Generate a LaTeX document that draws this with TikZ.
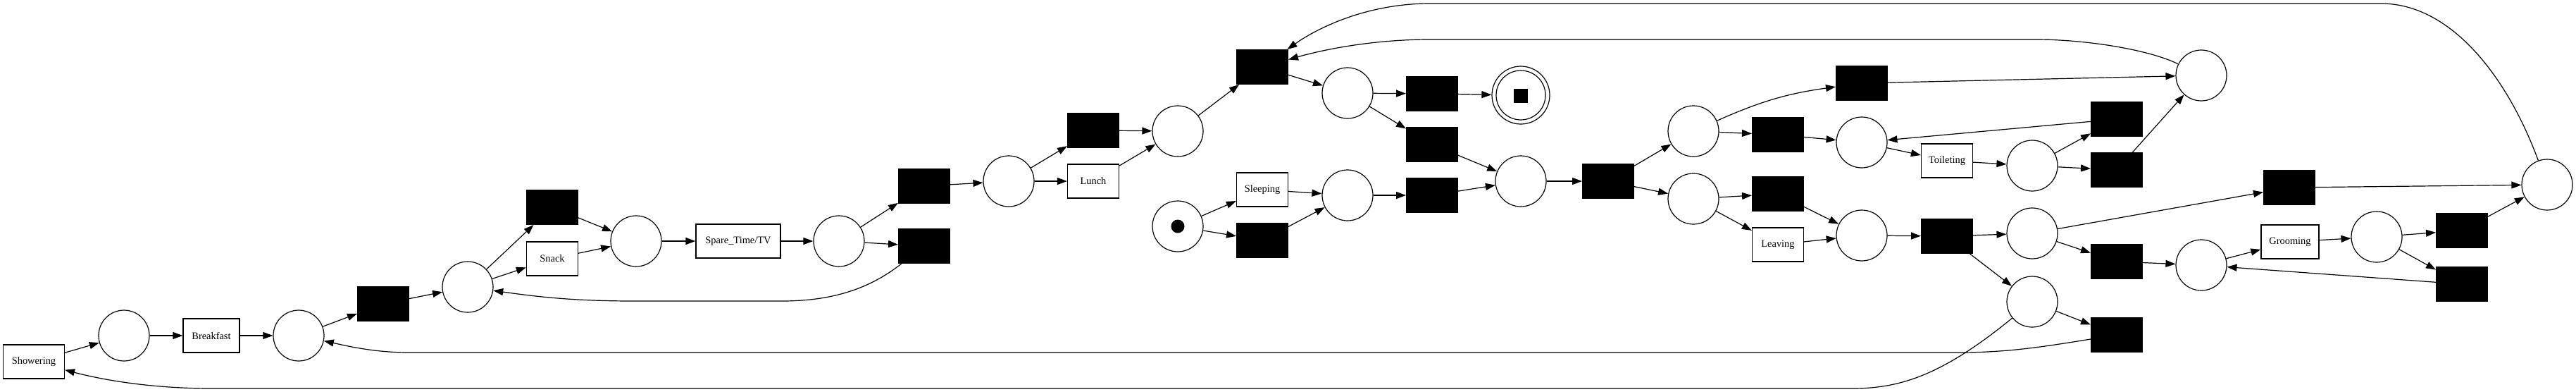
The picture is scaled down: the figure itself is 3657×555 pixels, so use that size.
\documentclass[tikz,border=0pt]{standalone}
\usepackage{fontspec}
\setmainfont{Liberation Serif}
\usetikzlibrary{arrows.meta}
\begin{document}
\begin{tikzpicture}[x=1pt,y=-1pt,
  place/.style={circle,draw,line width=1.2pt,minimum size=72pt,inner sep=0pt},
  blk/.style={rectangle,draw,fill=black,line width=1pt,minimum width=73pt,minimum height=49pt,inner sep=0pt},
  lbl/.style={rectangle,draw,fill=white,line width=1.2pt,minimum width=73pt,minimum height=48pt,inner sep=0pt,font=\fontsize{14.4}{17}\selectfont},
  arr/.style={-{Triangle[length=14pt,width=10pt]},line width=1.2pt},
  tokdot/.style={circle,fill=black,minimum size=19pt,inner sep=0pt},
  toksq/.style={rectangle,fill=black,minimum size=20pt,inner sep=0pt}
]
\useasboundingbox (0,0) rectangle (3657,555);
% nodes
\node[lbl,minimum width=87pt] (show) at (48,513) {Showering};
\node[place] (p1) at (176,476) {};
\node[lbl,minimum width=80pt] (bf) at (300,476) {Breakfast};
\node[place] (p2) at (424,476) {};
\node[blk] (t1) at (544,431) {};
\node[place] (p3) at (664,407) {};
\node[blk] (t2) at (784,294) {};
\node[lbl] (snack) at (784,367) {Snack};
\node[place] (p4) at (903,342) {};
\node[lbl,minimum width=120pt] (spare) at (1048,342) {Spare\_Time/TV};
\node[place] (p5) at (1191,342) {};
\node[blk] (t3) at (1312,264) {};
\node[blk] (t4) at (1312,349) {};
\node[place] (p6) at (1432,257) {};
\node[blk] (t5) at (1552,185) {};
\node[lbl] (lunch) at (1552,257) {Lunch};
\node[place] (p7) at (1672,186) {};
\node[blk] (t6) at (1792,95) {};
\node[place] (p8) at (1913,132) {};
\node[blk] (t7) at (2033,133) {};
\node[place,minimum size=82pt] (fin) at (2159,135) {};
\node[place,minimum size=70pt] (finin) at (2159,135) {};
\node[toksq] (fintok) at (2159,136) {};
\node[blk] (t8) at (2033,205) {};
\node[place] (start) at (1672,321) {};
\node[tokdot] (starttok) at (1672,321) {};
\node[lbl] (sleep) at (1792,269) {Sleeping};
\node[blk] (t9) at (1792,341) {};
\node[place] (p9) at (1913,277) {};
\node[blk] (t10) at (2033,277) {};
\node[place] (p10) at (2159,257) {};
\node[blk] (t11) at (2283,257) {};
\node[place] (p11) at (2404,186) {};
\node[place] (p12) at (2404,282) {};
\node[blk] (t12) at (2524,191) {};
\node[blk] (t13) at (2524,275) {};
\node[lbl] (leave) at (2524,347) {Leaving};
\node[blk] (t14) at (2643,118) {};
\node[place] (p13) at (2643,202) {};
\node[lbl] (toil) at (2764,228) {Toileting};
\node[place] (p14) at (2885,235) {};
\node[blk] (t15) at (3005,169) {};
\node[blk] (t16) at (3005,241) {};
\node[place] (p15) at (3125,107) {};
\node[place] (p16) at (2643,334) {};
\node[blk] (t17) at (2764,335) {};
\node[place] (p17) at (2885,331) {};
\node[place] (p18) at (2885,428) {};
\node[blk] (t18) at (3250,266) {};
\node[place] (p19) at (3616,262) {};
\node[blk] (t19) at (3005,371) {};
\node[place] (p20) at (3125,376) {};
\node[lbl,minimum width=82pt] (groom) at (3251,343) {Grooming};
\node[place] (p21) at (3374,336) {};
\node[blk] (t20) at (3495,327) {};
\node[blk] (t21) at (3495,403) {};
\node[blk] (t22) at (3005,475) {};
% edges
\draw[arr] (show) -- (p1);
\draw[arr] (p1) -- (bf);
\draw[arr] (bf) -- (p2);
\draw[arr] (p2) -- (t1);
\draw[arr] (t1) -- (p3);
\draw[arr] (p3) -- (t2);
\draw[arr] (p3) -- (snack);
\draw[arr] (t2) -- (p4);
\draw[arr] (snack) -- (p4);
\draw[arr] (p4) -- (spare);
\draw[arr] (spare) -- (p5);
\draw[arr] (p5) -- (t3);
\draw[arr] (p5) -- (t4);
\draw[arr] (t4) .. controls (1240,405) and (1190,427) .. (1110,427) -- (900,427) .. controls (820,427) and (770,422) .. (p3);
\draw[arr] (t3) -- (p6);
\draw[arr] (p6) -- (t5);
\draw[arr] (p6) -- (lunch);
\draw[arr] (t5) -- (p7);
\draw[arr] (lunch) -- (p7);
\draw[arr] (p7) -- (t6);
\draw[arr] (t6) -- (p8);
\draw[arr] (p8) -- (t7);
\draw[arr] (p8) -- (t8);
\draw[arr] (t7) -- (fin);
\draw[arr] (t8) -- (p10);
\draw[arr] (start) -- (sleep);
\draw[arr] (start) -- (t9);
\draw[arr] (sleep) -- (p9);
\draw[arr] (t9) -- (p9);
\draw[arr] (p9) -- (t10);
\draw[arr] (t10) -- (p10);
\draw[arr] (p10) -- (t11);
\draw[arr] (t11) -- (p11);
\draw[arr] (t11) -- (p12);
\draw[arr] (p11) to[bend left=8] (t14);
\draw[arr] (p11) -- (t12);
\draw[arr] (p12) -- (t13);
\draw[arr] (p12) -- (leave);
\draw[arr] (t12) -- (p13);
\draw[arr] (t13) -- (p16);
\draw[arr] (leave) -- (p16);
\draw[arr] (p13) -- (toil);
\draw[arr] (toil) -- (p14);
\draw[arr] (p14) -- (t15);
\draw[arr] (p14) -- (t16);
\draw[arr] (t15) -- (p13);
\draw[arr] (t16) -- (p15);
\draw[arr] (t14) -- (p15);
\draw[arr] (p15) .. controls (3050,70) and (2960,56) .. (2890,56) -- (2030,56) .. controls (1950,56) and (1880,70) .. (t6);
\draw[arr] (p19) .. controls (3560,110) and (3480,5) .. (3380,5) -- (2030,5) .. controls (1940,5) and (1870,40) .. (t6);
\draw[arr] (p16) -- (t17);
\draw[arr] (t17) -- (p17);
\draw[arr] (t17) -- (p18);
\draw[arr] (p17) -- (t18);
\draw[arr] (p17) -- (t19);
\draw[arr] (t18) -- (p19);
\draw[arr] (t19) -- (p20);
\draw[arr] (p20) -- (groom);
\draw[arr] (groom) -- (p21);
\draw[arr] (p21) -- (t20);
\draw[arr] (p21) -- (t21);
\draw[arr] (t20) -- (p19);
\draw[arr] (t21) -- (p20);
\draw[arr] (p18) -- (t22);
\draw[arr] (t22) .. controls (2900,492) and (2850,500) .. (2780,500) -- (580,500) .. controls (530,500) and (490,490) .. (p2);
\draw[arr] (p18) .. controls (2760,530) and (2700,551) .. (2630,551) -- (300,551) .. controls (220,551) and (150,540) .. (show);
\end{tikzpicture}
\end{document}
